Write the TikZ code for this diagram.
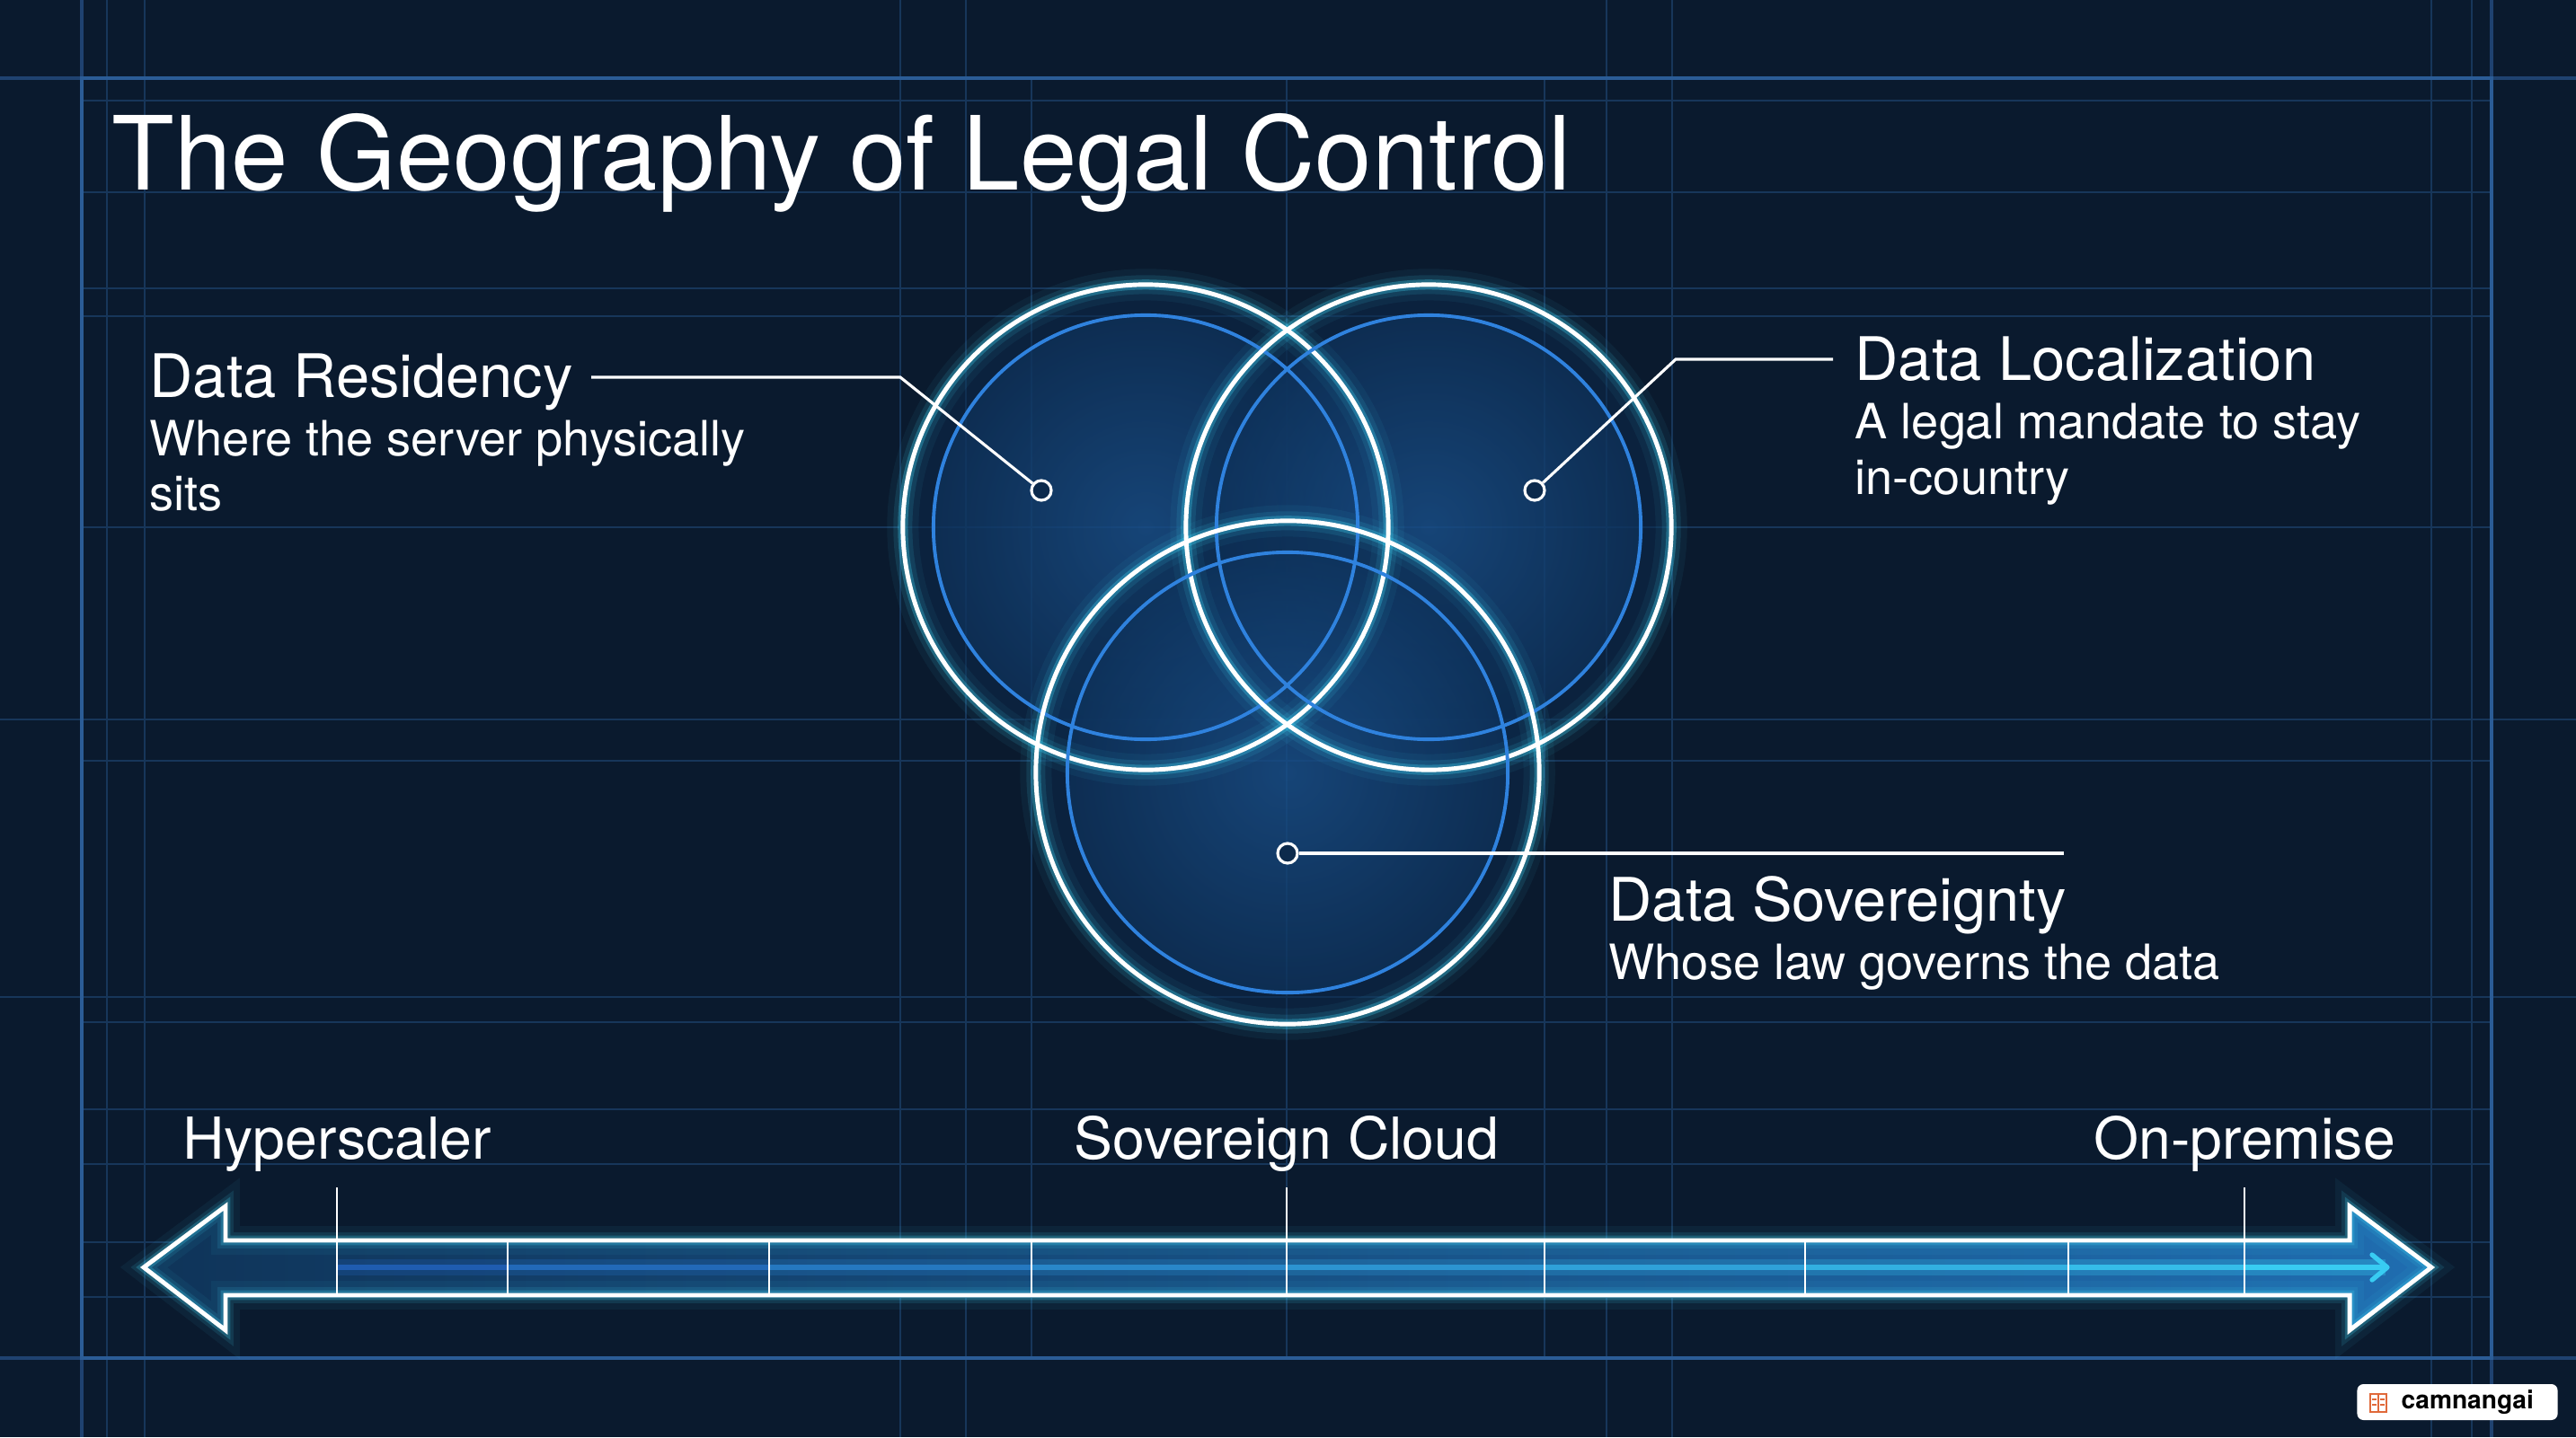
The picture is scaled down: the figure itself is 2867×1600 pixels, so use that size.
\documentclass[tikz,border=0pt]{standalone}
\usepackage{fontspec}
\setmainfont{TeX Gyre Heros}
\usetikzlibrary{calc}
\definecolor{bg}{HTML}{0A1A2E}
\definecolor{gridc}{HTML}{17365A}
\definecolor{framec}{HTML}{2B5C96}
\definecolor{framedim}{HTML}{1F4270}
\definecolor{ringblue}{HTML}{2F82DE}
\definecolor{glowc}{HTML}{3FD3F2}
\definecolor{fillin}{HTML}{1E5C9E}
\definecolor{fillout}{HTML}{0F3560}
\definecolor{bandc}{HTML}{0C2A4C}
\definecolor{shaftL}{HTML}{0F3459}
\definecolor{shaftR}{HTML}{1F6DB0}
\definecolor{lineL}{HTML}{1F5CB0}
\definecolor{lineR}{HTML}{38CCF2}
\definecolor{bookc}{HTML}{E0693A}
\tikzset{
  gridline/.style={draw=gridc, line width=0.5pt},
  frameline/.style={draw=framec, line width=0.9pt},
  leader/.style={draw=white, line width=0.9pt},
  dotnode/.style={circle, draw=white, line width=0.9pt, fill=bandc, minimum size=0.22cm, inner sep=0pt},
  titletxt/.style={text=white, inner sep=0pt, font=\fontsize{32.4}{38}\selectfont},
  headtxt/.style={text=white, inner sep=0pt, font=\fontsize{19}{22}\selectfont},
  subtxt/.style={text=white, inner sep=0pt, font=\fontsize{15.4}{18}\selectfont},
  scaletxt/.style={text=white, inner sep=0pt, font=\fontsize{18.3}{22}\selectfont},
  whitering/.style={draw=white, line width=1.4pt},
  bluering/.style={draw=ringblue, line width=1.1pt},
  glowring/.style 2 args={draw=glowc, line width=#1, opacity=#2},
  tickline/.style={draw=white, line width=0.8pt},
}
\begin{document}
\begin{tikzpicture}[x=0.01cm,y=-0.01cm]
\fill[bg] (0,0) rectangle (2867,1600);
\useasboundingbox (0,0) rectangle (2867,1600);

% background grid
\foreach \yy in {112,214,321,352,587,847,1138,1235,1296,1383,1444}
  \draw[gridline] (91,\yy) -- (2773,\yy);
\foreach \yy in {801,1110}
  \draw[gridline] (0,\yy) -- (2867,\yy);
\foreach \xx in {119,161,1002,1075,1788,1861,2706,2751}
  \draw[gridline] (\xx,0) -- (\xx,1600);
\foreach \xx in {1148,1432,1719}
  \draw[gridline] (\xx,87) -- (\xx,1512);
% frame (dimmer outside the frame)
\draw[framedim, line width=0.9pt] (0,87) -- (2867,87);
\draw[framedim, line width=0.9pt] (0,1512) -- (2867,1512);
\draw[framedim, line width=0.9pt] (91,0) -- (91,1600);
\draw[framedim, line width=0.9pt] (2773,0) -- (2773,1600);
\draw[frameline] (91,87) rectangle (2773,1512);

% title
\node[titletxt, anchor=base west] (title) at (124,212) {The Geography of Legal Control};

% circle centres
\coordinate (cL) at (1275,587);
\coordinate (cR) at (1590,587);
\coordinate (cB) at (1433,860);

% fills
\foreach \c/\ro/\ri in {cL/2.7/2.36, cR/2.7/2.36, cB/2.8/2.45}{
  \fill[bandc, opacity=0.55] (\c) circle[radius=\ro cm];
  \shade[inner color=fillin, outer color=fillout, opacity=0.6] (\c) circle[radius=\ri cm];
}
% glows
\foreach \c/\ro in {cL/2.7, cR/2.7, cB/2.8}{
  \draw[glowring={10pt}{0.06}] (\c) circle[radius=\ro cm];
  \draw[glowring={6pt}{0.12}] (\c) circle[radius=\ro cm];
  \draw[glowring={3.2pt}{0.3}] (\c) circle[radius=\ro cm];
}
% rings
\foreach \c/\ro/\ri in {cL/2.7/2.36, cR/2.7/2.36, cB/2.8/2.45}{
  \draw[bluering] (\c) circle[radius=\ri cm];
  \draw[whitering] (\c) circle[radius=\ro cm];
}

% dots and leaders
\node[dotnode] (dotL) at (1159,546) {};
\node[dotnode] (dotR) at (1708,546) {};
\node[dotnode] (dotB) at (1433,950) {};
\coordinate (bendL) at (1002,420);
\coordinate (endL) at (658,420);
\coordinate (bendR) at (1865,400);
\coordinate (endR) at (2040,400);
\coordinate (endB) at (2297,950);
\draw[leader] (dotL) -- (bendL) -- (endL);
\draw[leader] (dotR) -- (bendR) -- (endR);
\draw[leader] (dotB) -- (endB);

% labels
\node[headtxt, anchor=base west] (resH) at (166,442) {Data Residency};
\node[subtxt, anchor=base west] (resS1) at (166,507) {Where the server physically};
\node[subtxt, anchor=base west] (resS2) at (166,568) {sits};
\node[headtxt, anchor=base west] (locH) at (2064,423) {Data Localization};
\node[subtxt, anchor=base west] (locS1) at (2064,488) {A legal mandate to stay};
\node[subtxt, anchor=base west] (locS2) at (2064,550) {in-country};
\node[headtxt, anchor=base west] (sovH) at (1790,1025) {Data Sovereignty};
\node[subtxt, anchor=base west] (sovS) at (1790,1090) {Whose law governs the data};

% bottom scale arrow
\def\arrowpath{(160,1411) -- (251,1343) -- (251,1381) -- (2615,1381) -- (2615,1343) -- (2706,1411) -- (2615,1481) -- (2615,1442) -- (251,1442) -- (251,1481) -- cycle}
\shade[left color=shaftL, right color=shaftR] \arrowpath;
\draw[draw=glowc, line width=9pt, opacity=0.06, line join=miter] \arrowpath;
\draw[draw=glowc, line width=5pt, opacity=0.12, line join=miter] \arrowpath;
\draw[draw=glowc, line width=3pt, opacity=0.25, line join=miter] \arrowpath;

% inner gradient line
\foreach \aa/\bb/\pp in {375/565/0, 565/856/12, 856/1148/25, 1148/1432/38, 1432/1719/50, 1719/2009/62, 2009/2302/75, 2302/2498/87, 2498/2655/100}{
  \draw[color=lineR!\pp!lineL, line width=5pt, opacity=0.3] (\aa,1411) -- (\bb,1411);
  \draw[color=lineR!\pp!lineL, line width=1.8pt] (\aa,1411) -- (\bb,1411);
}
\draw[color=lineR, line width=1.5pt, line cap=round, line join=round] (2640,1397) -- (2657,1411) -- (2640,1425);

\draw[draw=white, line width=1.4pt, line join=miter] \arrowpath;

% dividers
\foreach \xx in {565,856,1148,1719,2009,2302}
  \draw[tickline] (\xx,1381) -- (\xx,1442);
\foreach \xx in {375,1432,2498}
  \draw[tickline] (\xx,1322) -- (\xx,1442);

% scale labels
\node[scaletxt, anchor=base] (hyper) at (375,1290) {Hyperscaler};
\node[scaletxt, anchor=base] (sovc) at (1432,1290) {Sovereign Cloud};
\node[scaletxt, anchor=base] (onprem) at (2498,1290) {On-premise};

% watermark
\node[fill=white, rounded corners=2pt, minimum width=2.23cm, minimum height=0.4cm, inner sep=0pt] (wm) at (2735,1561) {};
\node[anchor=west, inner sep=0pt, text=black, font=\bfseries\fontsize{8}{9}\selectfont] (wmt) at (2672,1561) {camnangai};
\draw[bookc, line width=0.5pt] (2638,1552) rectangle (2656,1572);
\draw[bookc, line width=0.5pt] (2647,1552) -- (2647,1572);
\draw[bookc, line width=0.4pt] (2640,1558) -- (2645,1558) (2640,1564) -- (2645,1564) (2649,1558) -- (2654,1558) (2649,1564) -- (2654,1564);
\end{tikzpicture}
\end{document}
